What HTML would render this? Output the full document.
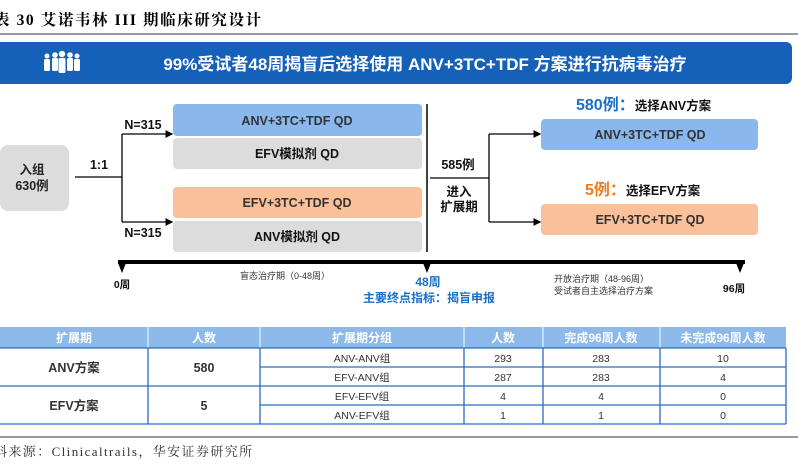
<!DOCTYPE html>
<html><head><meta charset="utf-8"><style>
body{margin:0;width:798px;height:470px;overflow:hidden;background:#fff;font-family:"Liberation Sans","Noto Sans CJK SC",sans-serif}
svg text{font-family:"Liberation Sans","Noto Sans CJK SC",sans-serif}
</style></head><body>
<svg width="798" height="470" viewBox="0 0 798 470" xmlns="http://www.w3.org/2000/svg">
<defs><marker id="ar" markerWidth="6" markerHeight="6" refX="5" refY="3" orient="auto"><path d="M0,0L6,3L0,6z" fill="#000"/></marker></defs>
<text x="-6" y="25" font-size="15.5" font-weight="bold" fill="#000" letter-spacing="1.6" style="font-family:'Liberation Serif','Noto Serif CJK SC',serif">表 30 艾诺韦林 III 期临床研究设计</text>
<line x1="0" y1="34" x2="798" y2="34" stroke="#333" stroke-width="1"/>
<g>
<path d="M0,42H786a6,6 0 0 1 6,6V78a6,6 0 0 1 -6,6H0z" fill="#1560b8"/>
<g fill="#fff">
<circle cx="47" cy="56" r="2.5"/><rect x="44" y="59" width="6" height="12" rx="1.5"/>
<circle cx="55" cy="55" r="2.8"/><rect x="52" y="58" width="6" height="13" rx="1.5"/>
<circle cx="62" cy="54" r="3.2"/><rect x="58.5" y="58" width="7" height="15" rx="1.5"/>
<circle cx="70" cy="55" r="2.8"/><rect x="67" y="58" width="6" height="13" rx="1.5"/>
<circle cx="77" cy="56" r="2.5"/><rect x="74" y="59" width="6" height="12" rx="1.5"/>
</g>
<text x="425" y="70" font-size="17" font-weight="bold" fill="#fff" text-anchor="middle">99%受试者48周揭盲后选择使用 ANV+3TC+TDF 方案进行抗病毒治疗</text>
</g>
<g font-size="12.5" font-weight="bold" text-anchor="middle" fill="#333">
<rect x="0" y="145" width="69" height="66" rx="8" fill="#dcdcdc"/>
<text x="32" y="174" fill="#222">入组</text><text x="32" y="190" fill="#222">630例</text>
<rect x="173" y="104" width="249" height="32" rx="4" fill="#8bb8ec"/>
<text x="297" y="125">ANV+3TC+TDF QD</text>
<rect x="173" y="138" width="249" height="31" rx="4" fill="#dcdcdc"/>
<text x="297" y="158" fill="#111">EFV模拟剂 QD</text>
<rect x="173" y="187" width="249" height="31" rx="4" fill="#f9c09a"/>
<text x="297" y="207">EFV+3TC+TDF QD</text>
<rect x="173" y="221" width="249" height="31" rx="4" fill="#dcdcdc"/>
<text x="297" y="241" fill="#111">ANV模拟剂 QD</text>
<rect x="541" y="119" width="217" height="31" rx="4" fill="#8bb8ec"/>
<text x="650" y="139">ANV+3TC+TDF QD</text>
<rect x="541" y="204" width="217" height="31" rx="4" fill="#f9c09a"/>
<text x="650" y="224">EFV+3TC+TDF QD</text>
</g>
<g stroke="#000" stroke-width="1.3" fill="none">
<path d="M75,177H122"/><path d="M122,134V222"/>
<path d="M122,134H172" marker-end="url(#ar)"/><path d="M122,222H172" marker-end="url(#ar)"/>
<path d="M427,104V252" stroke-width="1.5"/>
<path d="M430,178H489"/><path d="M489,134V222"/>
<path d="M489,134H540" marker-end="url(#ar)"/><path d="M489,222H540" marker-end="url(#ar)"/>
</g>
<g font-size="12.5" font-weight="bold" fill="#111" text-anchor="middle">
<text x="99" y="169">1:1</text>
<text x="143" y="129">N=315</text><text x="143" y="237">N=315</text>
<text x="458" y="169">585例</text><text x="459" y="196">进入</text><text x="459" y="211">扩展期</text>
</g>
<text x="576" y="110" font-size="16" font-weight="bold" fill="#1d6fc4">580例：<tspan font-size="12.5" fill="#111">选择ANV方案</tspan></text>
<text x="585" y="195" font-size="16" font-weight="bold" fill="#f07a1e">5例：<tspan font-size="12.5" fill="#111">选择EFV方案</tspan></text>
<g>
<rect x="118" y="260" width="627" height="4" fill="#000"/>
<path d="M118,263L126,263L122,273z M423,263L431,263L427,273z M736,263L744,263L740,273z" fill="#000"/>
</g>
<g font-size="9" fill="#333">
<text x="122" y="288" font-weight="bold" font-size="10.5" fill="#111" text-anchor="middle">0周</text>
<text x="285" y="279" text-anchor="middle">盲态治疗期（0-48周）</text>
<text x="428" y="286" font-weight="bold" font-size="12" fill="#1d6fc4" text-anchor="middle">48周</text>
<text x="429" y="302" font-weight="bold" font-size="12" fill="#1d6fc4" text-anchor="middle">主要终点指标：揭盲申报</text>
<text x="554" y="282">开放治疗期（48-96周）</text>
<text x="554" y="294">受试者自主选择治疗方案</text>
<text x="734" y="292" font-weight="bold" font-size="10.5" fill="#111" text-anchor="middle">96周</text>
</g>
<g>
<rect x="0" y="327" width="786" height="21" fill="#8cb8ea"/>
<g font-size="12" font-weight="bold" fill="#fff" text-anchor="middle">
<text x="74" y="342">扩展期</text><text x="204" y="342">人数</text><text x="362" y="342">扩展期分组</text><text x="503" y="342">人数</text><text x="601" y="342">完成96周人数</text><text x="723" y="342">未完成96周人数</text>
</g>
<g stroke="#fff" stroke-width="1"><path d="M148,327V348M260,327V348M464,327V348M543,327V348M660,327V348"/></g>
<g stroke="#2a6cc0" stroke-width="1.3" fill="none">
<path d="M0,348H786M0,386H786M0,424H786M260,367H786M260,405H786"/>
<path d="M148,348V424M260,348V424M464,348V424M543,348V424M660,348V424M786,348V424"/>
</g>
<g font-size="12.5" font-weight="bold" fill="#333" text-anchor="middle">
<text x="74" y="372">ANV方案</text><text x="204" y="372">580</text>
<text x="74" y="410">EFV方案</text><text x="204" y="410">5</text>
</g>
<g font-size="10.5" fill="#333" text-anchor="middle">
<text x="362" y="362">ANV-ANV组</text><text x="503" y="362">293</text><text x="601" y="362">283</text><text x="723" y="362">10</text>
<text x="362" y="381">EFV-ANV组</text><text x="503" y="381">287</text><text x="601" y="381">283</text><text x="723" y="381">4</text>
<text x="362" y="400">EFV-EFV组</text><text x="503" y="400">4</text><text x="601" y="400">4</text><text x="723" y="400">0</text>
<text x="362" y="419">ANV-EFV组</text><text x="503" y="419">1</text><text x="601" y="419">1</text><text x="723" y="419">0</text>
</g>
</g>
<line x1="0" y1="437" x2="798" y2="437" stroke="#333" stroke-width="1"/>
<text x="-6" y="456" font-size="13" fill="#333" letter-spacing="1.4" style="font-family:'Liberation Serif','Noto Serif CJK SC',serif">料来源：Clinicaltrails，华安证券研究所</text>
</svg>
</body></html>
